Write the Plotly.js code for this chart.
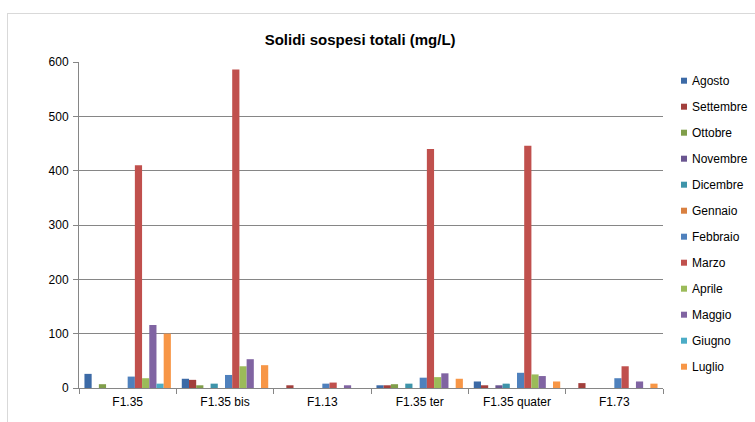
<!DOCTYPE html>
<html>
<head>
<meta charset="utf-8">
<script src="https://cdn.plot.ly/plotly-3.0.1.min.js"></script>
<style>
html,body{margin:0;padding:0;background:#fff;}
#frame{position:absolute;left:7px;top:13px;width:800px;height:460px;border:1px solid #d9d9d9;pointer-events:none;z-index:5;}
#chart{position:absolute;left:0;top:0;width:755px;height:422px;}
</style>
</head>
<body>
<div id="chart"></div>
<div id="frame"></div>
<script>
const sites = ["F1.35", "F1.35 bis", "F1.13", "F1.35 ter", "F1.35 quater", "F1.73"];
const months = ["Agosto","Settembre","Ottobre","Novembre","Dicembre","Gennaio","Febbraio","Marzo","Aprile","Maggio","Giugno","Luglio"];
const agosto    = [26, 17, 0, 5, 12, 0];
const settembre = [0, 15, 5, 5, 5, 9];
const ottobre   = [7, 5, 0, 7, 0, 0];
const novembre  = [0, 0, 0, 0, 5, 0];
const dicembre  = [0, 8, 0, 8, 8, 0];
const gennaio   = [0, 0, 0, 0, 0, 0];
const febbraio  = [21, 24, 8, 19, 28, 18];
const marzo     = [410, 586, 10, 440, 446, 40];
const aprile    = [18, 40, 0, 20, 25, 0];
const maggio    = [116, 53, 5, 27, 22, 12];
const giugno    = [8, 0, 0, 0, 0, 0];
const luglio    = [100, 42, 0, 17, 12, 8];
const yTicks = [0, 100, 200, 300, 400, 500, 600];

const series = [agosto, settembre, ottobre, novembre, dicembre, gennaio, febbraio, marzo, aprile, maggio, giugno, luglio];
const colors = ["#3C6AA6","#A23F3C","#809E4A","#6A5590","#3E94AA","#D98040","#4F81BD","#C0504D","#9BBB59","#8064A2","#4BACC6","#F79646"];

const traces = months.map((m, i) => ({
  type: "bar",
  name: m,
  x: sites,
  y: series[i],
  marker: {color: colors[i]},
  showlegend: false,
  hoverinfo: "x+y+name"
}));

// Excel-style legend: small coloured square followed by the month name
const plotLeft = 79, plotW = 584, plotTop = 62, plotH = 326;
const legY = i => (plotTop + plotH - (80.7 + 26 * i)) / plotH;
const legendAnn = months.map((m, i) => ({
  xref: "paper", yref: "paper",
  x: (690 - plotLeft) / plotW, xanchor: "left",
  y: legY(i), yanchor: "middle",
  showarrow: false,
  align: "left",
  text: m,
  font: {size: 12, color: "#000", family: "Liberation Sans, Arial, sans-serif"}
}));
const legendMarks = months.map((m, i) => ({
  type: "rect",
  xref: "paper", yref: "paper",
  xsizemode: "pixel", ysizemode: "pixel",
  xanchor: (684 - plotLeft) / plotW, yanchor: legY(i),
  x0: -3, x1: 3, y0: -3, y1: 3,
  fillcolor: colors[i],
  line: {width: 0}
}));

const layout = {
  width: 755, height: 422,
  margin: {l: 79, r: 92, t: 62, b: 34},
  paper_bgcolor: "#ffffff",
  plot_bgcolor: "#ffffff",
  font: {family: "Liberation Sans, Arial, sans-serif", size: 12, color: "#000"},
  title: {text: "<b>Solidi sospesi totali (mg/L)</b>", x: 0.477, xanchor: "center", y: 0.905, yanchor: "middle",
          font: {family: "Liberation Sans, Arial, sans-serif", size: 15, color: "#000"}},
  barmode: "group",
  bargap: 0.112,
  bargroupgap: 0,
  xaxis: {
    type: "category",
    tickson: "boundaries",
    ticks: "outside", ticklen: 5, tickcolor: "#868686",
    showline: true, linecolor: "#868686", linewidth: 1,
    showgrid: false,
    tickfont: {size: 12, color: "#000"},
    ticklabelstandoff: 3
  },
  yaxis: {
    range: [0, 600],
    tickvals: yTicks,
    ticks: "outside", ticklen: 5, tickcolor: "#868686",
    showline: true, linecolor: "#868686", linewidth: 1,
    showgrid: true, gridcolor: "#868686", gridwidth: 1,
    zeroline: false,
    tickfont: {size: 12, color: "#000"},
    ticklabelstandoff: 2
  },
  annotations: legendAnn,
  shapes: legendMarks,
  showlegend: false
};

Plotly.newPlot("chart", traces, layout, {displayModeBar: false, staticPlot: true});
</script>
</body>
</html>
